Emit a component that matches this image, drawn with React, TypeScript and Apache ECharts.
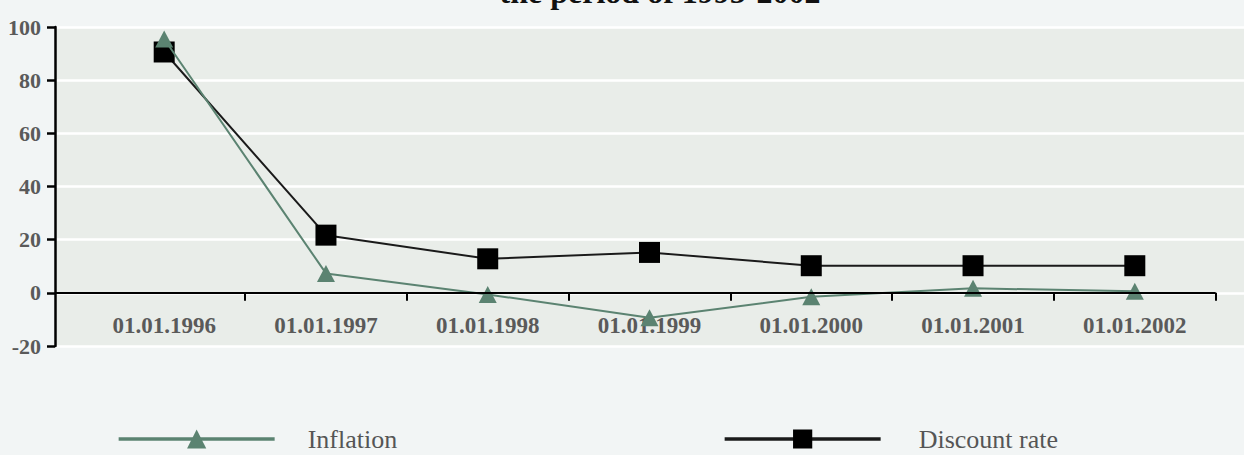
import React, { useEffect, useRef } from "react";
import * as echarts from "echarts";

const categories = [
  "01.01.1996",
  "01.01.1997",
  "01.01.1998",
  "01.01.1999",
  "01.01.2000",
  "01.01.2001",
  "01.01.2002",
];
const inflation = [95.5, 7.3, -0.6, -9.4, -1.5, 1.7, 0.6];
const discountRate = [90.6, 21.7, 12.8, 15.2, 10.2, 10.2, 10.2];
const yTicks = { min: -20, max: 100, interval: 20 };
const titleText = "the period of 1995-2002";

const SERIF = "'Liberation Serif', 'Times New Roman', serif";
const GREEN = "#5B8371";
const LABEL = "#5a5a5a";

export default function App() {
  const ref = useRef<HTMLDivElement>(null);

  useEffect(() => {
    if (!ref.current) return;
    const chart = echarts.init(ref.current, undefined, { renderer: "svg" });
    const idx = categories.map((_, i) => i);
    const xMin = -0.675;
    const xMax = categories.length - 1 + 0.675;
    const tickVals = idx.map((i) => i + 0.5);

    chart.setOption({
      animation: false,
      backgroundColor: "#F2F5F5",
      graphic: [
        {
          type: "text",
          x: 660,
          y: 8,
          style: {
            text: titleText,
            fontFamily: SERIF,
            fontWeight: "bold",
            fontSize: 32,
            fill: "#111",
            textAlign: "center",
            textVerticalAlign: "bottom",
          },
        },
      ],
      grid: {
        left: 55,
        right: 0,
        top: 27,
        bottom: 109,
        show: true,
        backgroundColor: "#E9EDE9",
        borderWidth: 0,
        containLabel: false,
      },
      legend: [
        {
          data: ["Inflation"],
          left: 117,
          top: 426,
          padding: 0,
          itemWidth: 156,
          itemHeight: 24,
          selectedMode: false,
          lineStyle: { width: 3.3 },
          textStyle: {
            fontFamily: SERIF,
            fontSize: 26,
            color: "#555",
            padding: [0, 0, 0, 28],
          },
        },
        {
          data: ["Discount rate"],
          left: 723,
          top: 426,
          padding: 0,
          itemWidth: 156,
          itemHeight: 24,
          selectedMode: false,
          lineStyle: { width: 3.3 },
          textStyle: {
            fontFamily: SERIF,
            fontSize: 26,
            color: "#555",
            padding: [0, 0, 0, 33],
          },
        },
      ],
      xAxis: {
        type: "value",
        min: xMin,
        max: xMax,
        axisLine: { show: true, onZero: true, lineStyle: { opacity: 0 } },
        axisTick: {
          show: true,
          customValues: tickVals,
          length: 8,
          lineStyle: { color: "#000", width: 2 },
        },
        axisLabel: {
          customValues: idx,
          formatter: (v: number) => categories[Math.round(v)] ?? "",
          fontFamily: SERIF,
          fontWeight: "bold",
          fontSize: 23,
          color: LABEL,
          margin: -32,
        },
        splitLine: { show: false },
      },
      yAxis: {
        type: "value",
        min: yTicks.min,
        max: yTicks.max,
        interval: yTicks.interval,
        axisLine: { show: true, onZero: false, lineStyle: { color: "#000", width: 2.5 } },
        axisTick: { show: true, length: 8, lineStyle: { color: "#000", width: 2.5 } },
        axisLabel: {
          fontFamily: SERIF,
          fontWeight: "bold",
          fontSize: 22,
          color: LABEL,
          margin: 14,
        },
        splitLine: { show: true, lineStyle: { color: "#ffffff", width: 2.5 } },
      },
      series: [
        {
          name: "Discount rate",
          type: "line",
          data: idx.map((i) => [i, discountRate[i]]),
          symbol: "rect",
          symbolSize: 21,
          lineStyle: { color: "#1a1a1a", width: 2 },
          itemStyle: { color: "#000" },
          z: 3,
          markLine: {
            silent: true,
            symbol: "none",
            label: { show: false },
            lineStyle: { color: "#000", width: 1.8, type: "solid" },
            data: [[{ coord: [xMin, 0] }, { coord: [categories.length - 0.5, 0] }]],
          },
        },
        {
          name: "Inflation",
          type: "line",
          data: idx.map((i) => [i, inflation[i]]),
          symbol: "triangle",
          symbolSize: [18, 17],
          lineStyle: { color: GREEN, width: 2 },
          itemStyle: { color: GREEN },
          z: 4,
        },
      ],
    });

    return () => chart.dispose();
  }, []);

  return (
    <div
      ref={ref}
      style={{ position: "absolute", left: 0, top: 0, width: 1244, height: 455 }}
    />
  );
}
